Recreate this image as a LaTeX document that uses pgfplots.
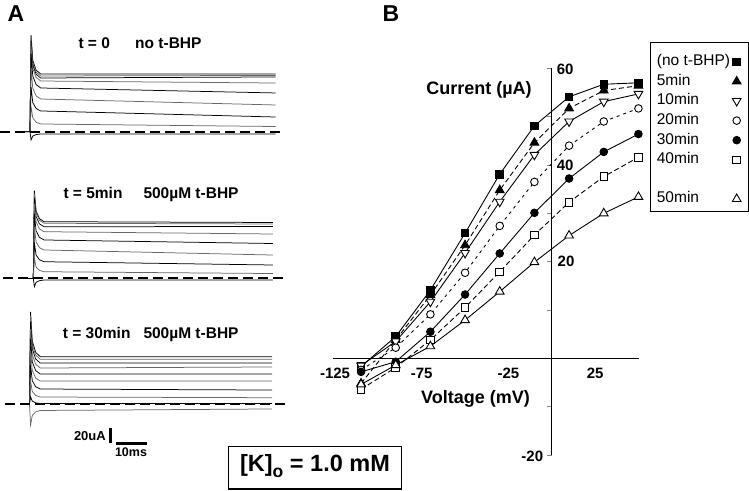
\documentclass[border=0pt]{standalone}
\usepackage{pgfplots}
\pgfplotsset{compat=1.18}
\usepackage{fontspec}
\setmainfont{Liberation Sans}
\pgfplotsset{
  trk/.style={line width=0.75pt, black},
  trg/.style={line width=0.75pt, black!60},
  base/.style={black, line width=2pt, dash pattern=on 10pt off 5pt},
  traceaxis/.style={anchor=south west, x=3.07pt, y=0.72pt, xmin=-10, xmax=85, ymin=-40, ymax=140, hide axis, clip=false},
}
\newcommand{\fs}[1]{\fontsize{#1}{#1}\selectfont}
\begin{document}
\begin{tikzpicture}[x=1pt,y=1pt]
\path[use as bounding box] (0,0) rectangle (749,490);

% ---------- Panel A, t = 0 ----------
\begin{axis}[traceaxis, at={(-0.7pt,329.5pt)}]
\addplot[trk] coordinates {(-3,0)(0,0)(0.35,134)(0.9,99)(2,85.5)(3.5,80.1)(80,80.1)};
\addplot[trg] coordinates {(0,0)(0.35,130)(0.9,95.8)(2,82.7)(3.5,77.4)(80,78.1)};
\addplot[trk] coordinates {(0,0)(0.35,126)(0.9,92.6)(2,79.7)(3.5,74.6)(80,76.0)};
\addplot[trg] coordinates {(0,0)(0.35,120)(0.9,87.8)(2,75.4)(3.5,70.4)(80,67.6)};
\addplot[trk] coordinates {(0,0)(0.35,108)(0.9,77.3)(2,65.4)(3.5,60.7)(80,53.8)};
\addplot[trg] coordinates {(0,0)(0.35,88)(0.9,60.3)(2,49.7)(3.5,45.4)(80,37.1)};
\addplot[trk] coordinates {(0,0)(0.35,62)(0.9,40.4)(2,32.1)(3.5,28.8)(80,20.4)};
\addplot[trg] coordinates {(0,0)(0.35,35)(0.9,19.2)(2,13.1)(3.5,10.7)(80,7.2)};
\addplot[trk] coordinates {(-3,0)(0,0)(0.35,-11.5)(0.9,-6.1)(2,-4.0)(3.5,-3.2)(80,-3.2)};
\addplot[base] coordinates {(-9.8,0) (82.4,0)};
\end{axis}

% ---------- Panel A, t = 5 min ----------
\begin{axis}[traceaxis, at={(2.6pt,182.7pt)}]
\addplot[trk] coordinates {(-3,0)(0,0)(0.35,122)(0.9,94)(2,83.2)(3.5,78.9)(78,77.8)};
\addplot[trg] coordinates {(0,0)(0.35,118)(0.9,91.2)(2,80.8)(3.5,76.7)(78,75.7)};
\addplot[trk] coordinates {(0,0)(0.35,112)(0.9,86)(2,75.9)(3.5,71.9)(78,72.2)};
\addplot[trg] coordinates {(0,0)(0.35,104)(0.9,78.7)(2,68.9)(3.5,65)(78,61.8)};
\addplot[trk] coordinates {(0,0)(0.35,90)(0.9,66.3)(2,57.2)(3.5,53.5)(78,48.6)};
\addplot[trg] coordinates {(0,0)(0.35,72)(0.9,50.9)(2,42.8)(3.5,39.6)(78,32.6)};
\addplot[trk] coordinates {(0,0)(0.35,50)(0.9,32.6)(2,26)(3.5,23.3)(78,18.75)};
\addplot[trg] coordinates {(0,0)(0.35,28)(0.9,15.9)(2,11.3)(3.5,9.4)(78,6.9)};
\addplot[trk] coordinates {(-3,0)(0,0)(0.35,-11.4)(0.9,-5.4)(2,-3)(3.5,-2.1)(78,-2.1)};
\addplot[base] coordinates {(-9.8,0) (82.5,0)};
\end{axis}

% ---------- Panel A, t = 30 min ----------
\begin{axis}[traceaxis, at={(-1.2pt,57.2pt)}]
\addplot[trk] coordinates {(-3,0)(0,0)(0.35,128)(0.9,87.5)(2,71.9)(3.5,65.7)(79,65.7)};
\addplot[trg] coordinates {(0,0)(0.35,122)(0.9,83.1)(2,68.1)(3.5,62.1)(79,62.1)};
\addplot[trk] coordinates {(0,0)(0.35,114)(0.9,76.9)(2,62.6)(3.5,56.9)(79,56.9)};
\addplot[trg] coordinates {(0,0)(0.35,104)(0.9,68.9)(2,55.4)(3.5,50)(79,51.4)};
\addplot[trk] coordinates {(0,0)(0.35,90)(0.9,58.6)(2,46.5)(3.5,41.7)(79,41.7)};
\addplot[trg] coordinates {(0,0)(0.35,74)(0.9,46.6)(2,36.1)(3.5,31.9)(79,31.9)};
\addplot[trk] coordinates {(0,0)(0.35,54)(0.9,32.4)(2,24.1)(3.5,20.8)(79,19.4)};
\addplot[trg] coordinates {(0,0)(0.35,32)(0.9,17.5)(2,11.9)(3.5,9.7)(79,8.75)};
\addplot[trk] coordinates {(0,0)(0.35,10)(0.9,4)(2,1.6)(3.5,0.7)(79,0.7)};
\addplot[trg] coordinates {(-3,0)(0,0)(0.35,-29)(0.9,-16)(2,-11)(3.5,-9)(79,-6.9)};
\addplot[base] coordinates {(-8,0) (84,0)};
\end{axis}

% panel A texts
\node[font=\bfseries\fs{23}] at (16,476.7) {A};
\node[anchor=base west, inner sep=0, font=\bfseries\fs{15.5}] at (78.3,441.1) {t = 0};
\node[anchor=base west, inner sep=0, font=\bfseries\fs{15.5}] at (135,441.1) {no t-BHP};
\node[anchor=base west, inner sep=0, font=\bfseries\fs{15.5}] at (63.3,291.1) {t = 5min};
\node[anchor=base west, inner sep=0, font=\bfseries\fs{15.5}] at (143.3,291.1) {500µM t-BHP};
\node[anchor=base west, inner sep=0, font=\bfseries\fs{15.5}] at (62.7,151.1) {t = 30min};
\node[anchor=base west, inner sep=0, font=\bfseries\fs{15.5}] at (143.3,151.1) {500µM t-BHP};
% scale bars
\draw[line width=3pt] (110,61.7) -- (110,47.3);
\draw[line width=3pt] (116,46.7) -- (146.7,46.7);
\node[anchor=east, inner sep=0, font=\bfseries\fs{13}] at (106,54.3) {20uA};
\node[inner sep=0, font=\bfseries\fs{12.5}] at (131,38) {10ms};
% box
\draw[line width=1.3pt] (228.3,43.3) rectangle (401.7,0.9);
\node[font=\bfseries\fs{23.5}] at (315,24) {[K]\raisebox{-5.5pt}{\fs{17.5}o} = 1.0 mM};

% ---------- Panel B ----------
\begin{axis}[at={(333.3pt,35pt)}, anchor=south west, scale only axis,
  width=306pt, height=386.7pt,
  xmin=-126, xmax=50.5, ymin=-20, ymax=60,
  axis lines=middle, axis line style={-, line width=1.1pt},
  clip=false,
  xtick={-125,-75,-25,25}, xticklabels={-125,-75,-25,25},
  xtick style={draw=none},
  xticklabel style={font=\bfseries\fs{15}, yshift=-2pt},
  ytick={-20,-10,10,20,30,40,50,60}, yticklabels={},
  ytick style={line width=0.9pt},
  tick align=outside, major tick length=4.5pt,
  legend plot pos=right,
  legend cell align=left,
  legend image code/.code={\draw[#1] plot[only marks] coordinates {(3.5pt,0pt)};},
  legend style={at={(1.0427,1.0427)}, anchor=north west, draw=none, fill=none,
    font=\fs{15.5}, row sep=0pt, inner xsep=2pt, inner ysep=0pt,
    nodes={text height=11.5pt, text depth=3.5pt, inner sep=2.3pt}},
]
\addplot[black, line width=0.9pt, mark=square*, mark size=3.8pt, mark options={solid}]
 coordinates {(-110,-1.7)(-90,4.5)(-70,14.1)(-50,25.9)(-30,38.1)(-10,48.1)(10,54.1)(30,56.7)(50,57.0)};
\addlegendentry{(no t-BHP)}
\addplot[black, line width=0.9pt, dash pattern=on 5pt off 3pt, mark=triangle*, mark size=5pt, mark options={solid}]
 coordinates {(-110,-5.2)(-90,3.8)(-70,13.1)(-50,23.4)(-30,34.8)(-10,44.6)(10,51.7)(30,55.4)(50,56.4)};
\addlegendentry{5min}
\addplot[black, line width=0.9pt, mark=triangle*, mark size=5pt, mark options={solid, fill=white, rotate=180}]
 coordinates {(-110,-1.5)(-90,3.5)(-70,11.7)(-50,21.8)(-30,32.4)(-10,42.1)(10,49.0)(30,53.1)(50,54.7)};
\addlegendentry{10min}
\addplot[black, line width=0.9pt, dash pattern=on 3pt off 4pt, mark=*, mark size=3.8pt, mark options={solid, fill=white}]
 coordinates {(-110,-2.4)(-90,2.2)(-70,9.1)(-50,17.7)(-30,27.4)(-10,36.5)(10,44.0)(30,49.0)(50,51.7)};
\addlegendentry{20min}
\addplot[black, line width=0.9pt, mark=*, mark size=3.8pt, mark options={solid}]
 coordinates {(-110,-2.8)(-90,-0.7)(-70,5.5)(-50,13.2)(-30,21.7)(-10,30.1)(10,37.2)(30,42.7)(50,46.4)};
\addlegendentry{30min}
\addplot[black, line width=0.9pt, dash pattern=on 5pt off 3pt, mark=square*, mark size=3.8pt, mark options={solid, fill=white}]
 coordinates {(-110,-6.4)(-90,-1.9)(-70,3.8)(-50,10.5)(-30,17.9)(-10,25.5)(10,32.3)(30,37.6)(50,41.6)};
\addlegendentry{40min}
\addlegendimage{empty legend}
\addlegendentry{\mbox{}}
\addplot[black, line width=0.9pt, mark=triangle*, mark size=5pt, mark options={solid, fill=white}]
 coordinates {(-110,-5.4)(-90,-1.4)(-70,2.5)(-50,7.9)(-30,13.8)(-10,19.9)(10,25.4)(30,30.0)(50,33.4)};
\addlegendentry{50min}
\end{axis}

\draw[line width=1pt] (650,447.3) rectangle (748.2,278.3);
\node[font=\bfseries\fs{23}] at (391,476.7) {B};
\node[font=\bfseries\fs{18}] at (479,400) {Current (µA)};
\node[font=\bfseries\fs{18}] at (475.5,91) {Voltage (mV)};
\node[anchor=west, inner sep=0, font=\bfseries\fs{15}] at (556.7,421) {60};
\node[anchor=west, inner sep=0, font=\bfseries\fs{15}] at (556.7,324.3) {40};
\node[anchor=west, inner sep=0, font=\bfseries\fs{15}] at (557.5,228.3) {20};
\node[anchor=east, inner sep=0, font=\bfseries\fs{15}] at (543.3,33.3) {-20};
\end{tikzpicture}
\end{document}
